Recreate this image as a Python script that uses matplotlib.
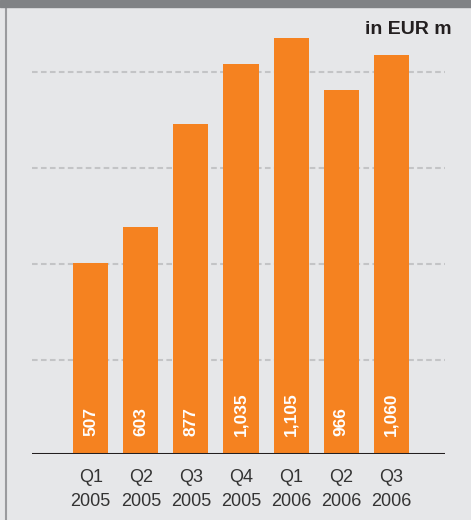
import matplotlib.pyplot as plt
from matplotlib.lines import Line2D
from matplotlib.patches import Rectangle

quarters = ["Q1\n2005", "Q2\n2005", "Q3\n2005", "Q4\n2005",
            "Q1\n2006", "Q2\n2006", "Q3\n2006"]
values = [507, 603, 877, 1035, 1105, 966, 1060]
value_labels = ["507", "603", "877", "1,035", "1,105", "966", "1,060"]
grid_levels = [250, 505, 760, 1015]

bg = "#e6e7e9"
orange = "#f58220"
dark = "#231f20"
font = ["Liberation Sans", "DejaVu Sans"]

W, H = 471, 520
fig = plt.figure(figsize=(W / 100, H / 100), dpi=100)
fig.patch.set_facecolor(bg)

# top band and left rule
fig.add_artist(Rectangle((0, 1 - 7 / H), 1, 7 / H, transform=fig.transFigure,
                         color="#808285", zorder=5))
fig.add_artist(Line2D([5.5 / W, 5.5 / W], [0, 1], transform=fig.transFigure,
                      color="#9a9b9e", lw=1.5))

ax = fig.add_axes([32 / W, 1 - 454 / H, (445 - 32) / W, (454 - 8) / H])
ax.set_facecolor(bg)
x = list(range(len(values)))
ax.bar(x, values, width=0.7, color=orange, zorder=2)
ax.set_xlim(-1.17, 7.07)
ax.set_ylim(0, 1105 * (454 - 8) / 416)

for g in grid_levels:
    ax.axhline(g, color="#c3c4c6", lw=1.5, ls=(0, (2.7, 1.6)), zorder=1)
ax.axhline(0, color=dark, lw=2.2, zorder=3)

for xi, lab in zip(x, value_labels):
    ax.text(xi, 48, lab, rotation=90, ha="center", va="bottom", color="white",
            fontsize=12.5, fontweight="bold", family=font, zorder=4)

ax.set_xticks(x)
ax.set_xticklabels(quarters, family=font, fontsize=13, color="#333333",
                   linespacing=1.5)
ax.tick_params(axis="x", length=0, pad=11)
ax.set_yticks([])
for s in ax.spines.values():
    s.set_visible(False)

fig.text(452 / W, 1 - 29 / H, "in EUR m", ha="right", va="center",
         fontsize=14, fontweight="bold", color=dark, family=font)

fig.savefig("out.png", dpi=100, facecolor=bg)
